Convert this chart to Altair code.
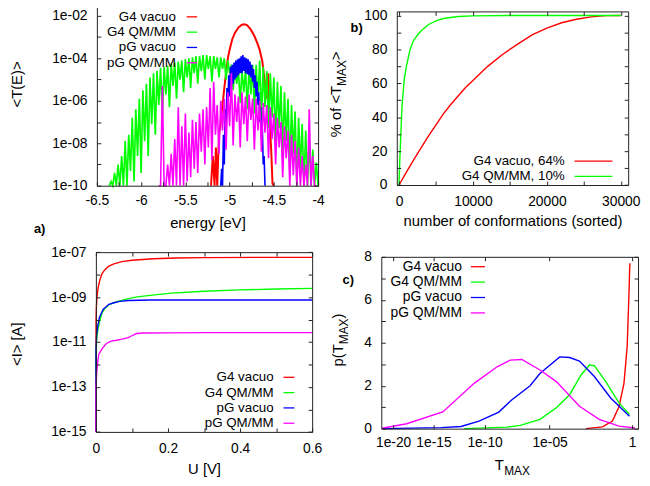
import altair as alt
import numpy as np
import pandas as pd

FONT = "Liberation Sans"
W, H = 642, 478
BORDER = "#222222"
TICK = 4


def cx(p):
    return p - 8


def cy(p):
    return p + 1


SERIES = ["G4 vacuo", "G4 QM/MM", "pG vacuo", "pG QM/MM"]
COLORS = ["#ff0000", "#00ff00", "#0000ff", "#ff00ff"]

# ---------------- panel a) <T(E)> vs energy (log10 of T) ----------------
a_red_E = [-5.21, -5.19, -5.17, -5.155, -5.14, -5.12, -5.10, -5.08, -5.06, -5.04,
           -5.02, -5.00, -4.97, -4.94, -4.90, -4.86, -4.83, -4.80, -4.76, -4.72,
           -4.69, -4.66, -4.63, -4.60, -4.58, -4.565, -4.555, -4.545, -4.53, -4.515, -4.50]
a_red_logT = [-10.6, -8.6, -10.6, -8.2, -10.6, -7.6, -7.0, -6.2, -5.4, -4.7,
              -4.0, -3.6, -3.1, -2.8, -2.55, -2.42, -2.40, -2.45, -2.65, -2.95,
              -3.25, -3.6, -4.15, -5.2, -5.9, -4.7, -6.6, -7.2, -8.3, -9.9, -10.6]

a_green_E0, a_green_dE = -6.36, 0.02
a_green_logT = [-10.6, -9.8, -10.6, -9.4, -10.6, -9.0, -10.6, -8.6, -10.4, -7.9,
                -10.2, -7.6, -9.3, -6.8, -9.8, -6.4, -8.6, -5.9, -9.4, -5.5,
                -7.9, -5.2, -8.6, -4.9, -7.1, -4.7, -7.6, -4.6, -6.2, -4.45,
                -6.8, -4.4, -5.7, -4.35, -6.3, -4.25, -5.3, -4.2, -5.9, -4.15,
                -5.0, -4.1, -5.6, -4.05, -4.9, -4.0, -5.4, -3.95, -4.7, -3.9,
                -5.2, -3.9, -4.6, -3.85, -5.0, -3.85, -4.5, -3.9, -5.1, -3.9,
                -4.5, -3.95, -4.9, -3.95, -4.5, -4.0, -5.0, -4.1, -4.7, -4.3,
                -5.5, -4.5, -5.2, -4.6, -6.1, -4.55, -5.6, -4.5, -6.4, -4.4,
                -5.7, -4.3, -6.6, -4.3, -6.0, -4.1, -6.9, -4.4, -6.3, -4.6,
                -7.3, -4.7, -6.8, -4.9, -8.0, -5.1, -7.3, -5.3, -8.6, -5.6,
                -7.9, -5.9, -9.2, -6.2, -8.5, -6.5, -9.9, -6.8, -9.2, -7.1,
                -10.6, -7.4, -10.0, -7.8, -10.6, -8.3, -10.6, -8.9, -10.6]

a_blue_E0, a_blue_dE = -5.10, 0.01
a_blue_logT = [-10.6, -9.2, -10.2, -7.6, -9.0, -6.4, -7.6, -5.4, -6.5, -4.8,
               -5.8, -4.4, -5.4, -4.3, -5.2, -4.2, -5.0, -4.1, -4.9, -4.05,
               -4.8, -4.0, -4.7, -3.9, -4.7, -3.85, -4.6, -3.95, -4.7, -4.0,
               -4.75, -4.05, -4.8, -4.15, -4.9, -4.3, -5.1, -4.5, -5.4, -4.8,
               -5.8, -5.1, -6.2, -5.6, -7.0, -6.3, -7.8, -7.3, -9.0, -8.6,
               -10.6]

a_mag_E0, a_mag_dE = -5.80, 0.02
a_mag_logT = [-10.6, -10.6, -5.3, -10.6, -10.6, -9.0, -10.6, -8.5, -10.6, -7.8,
              -10.6, -6.3, -10.4, -7.2, -10.0, -6.6, -9.8, -7.5, -9.6, -6.9,
              -9.2, -7.0, -9.4, -6.6, -8.4, -6.4, -9.0, -6.3, -8.2, -5.4,
              -8.8, -5.1, -7.6, -6.2, -8.5, -6.0, -7.4, -5.9, -8.3, -5.6,
              -7.2, -4.7, -8.1, -5.7, -7.0, -5.8, -8.2, -5.6, -7.1, -5.8,
              -7.9, -5.7, -6.9, -5.9, -8.3, -5.9, -7.4, -6.0, -8.4, -6.1,
              -7.5, -6.2, -8.7, -6.3, -7.8, -6.6, -9.0, -6.8, -8.2, -7.0,
              -9.6, -7.2, -8.7, -7.4, -10.2, -7.6, -9.5, -7.9, -10.6, -8.2,
              -10.6, -8.6, -10.6, -9.0, -10.6, -6.4, -10.6, -8.6, -10.6, -10.6]

# ---------------- panel b) cumulative % of <T_MAX> ----------------
b_red_n = [0, 1000, 2000, 3000, 4000, 5000, 6000, 7000, 8000, 9000, 10000,
           12000, 14000, 16000, 18000, 20000, 22000, 24000, 26000, 28000, 30000]
b_red_pct = [0, 7.6, 15, 22, 29, 35.5, 42, 47.5, 52.5, 57.5, 61.6,
             70, 77, 83, 88.5, 92.6, 95.7, 97.8, 99.2, 99.9, 100]
b_green_n = [0, 100, 200, 400, 700, 1000, 1500, 2000, 2500, 3000, 4000,
             5000, 6000, 8000, 10000, 15000, 20000, 30000]
b_green_pct = [0, 14, 25, 46, 62, 70, 80, 85.5, 88.5, 91, 94.7,
               96.8, 98.2, 99.4, 99.8, 100, 100, 100]
b_names = ["G4 vacuo, 64%", "G4 QM/MM, 10%"]

# ---------------- panel c) <I> vs U (log10 of I) ----------------
c_red_U = [0, 0.0005, 0.0015, 0.003, 0.006, 0.01, 0.017, 0.025, 0.035, 0.05,
           0.072, 0.1, 0.16, 0.22, 0.3, 0.45, 0.6]
c_red_logI = [-15.5, -10.0, -9.4, -9.0, -8.6, -8.3, -7.95, -7.78, -7.63, -7.52,
              -7.42, -7.36, -7.29, -7.26, -7.24, -7.23, -7.23]
c_green_U = [0, 0.0005, 0.002, 0.005, 0.01, 0.017, 0.025, 0.036, 0.05, 0.066,
             0.09, 0.115, 0.15, 0.21, 0.3, 0.4, 0.5, 0.6]
c_green_logI = [-15.5, -11.5, -10.9, -10.5, -10.1, -9.7, -9.5, -9.35, -9.25, -9.17,
                -9.07, -8.99, -8.92, -8.82, -8.74, -8.68, -8.64, -8.61]
c_blue_U = [0, 0.0005, 0.002, 0.005, 0.01, 0.02, 0.036, 0.05, 0.066, 0.09, 0.15, 0.3, 0.6]
c_blue_logI = [-15.5, -11.3, -10.7, -10.3, -9.9, -9.55, -9.32, -9.25, -9.19, -9.15,
               -9.13, -9.13, -9.13]
c_mag_U = [0, 0.0005, 0.002, 0.005, 0.008, 0.017, 0.027, 0.036, 0.045, 0.054,
           0.072, 0.09, 0.1, 0.113, 0.13, 0.2, 0.3, 0.6]
c_mag_logI = [-15.5, -13.0, -12.4, -11.9, -11.55, -11.3, -11.1, -11.0, -10.95, -10.93,
              -10.87, -10.8, -10.72, -10.62, -10.6, -10.59, -10.58, -10.58]

# ---------------- panel d) p(T_MAX) vs T_MAX (log10 of T) ----------------
d_red_logT = [-2.65, -1.66, -1.09, -0.72, -0.446, -0.268, -0.176, -0.123]
d_red_p = [0.0, 0.08, 0.35, 1.02, 2.1, 3.83, 6.13, 7.7]
d_green_logT = [-11.85, -8.14, -7.11, -5.67, -4.54, -3.67, -2.95, -2.44, -2.14, -1.47, -0.72, -0.144]
d_green_p = [0.0, 0.07, 0.15, 0.43, 0.97, 1.58, 2.5, 2.96, 2.93, 2.19, 1.2, 0.66]
d_blue_logT = [-21.63, -14.16, -12.16, -10.49, -8.80, -7.75, -6.38, -5.67, -4.32, -3.67,
               -3.05, -2.14, -1.19, -0.144]
d_blue_p = [0.0, 0.05, 0.1, 0.35, 0.77, 1.35, 2.0, 2.57, 3.34, 3.31, 3.15, 2.43, 1.43, 0.58]
d_mag_logT = [-21.63, -18.19, -13.99, -10.93, -8.94, -7.88, -6.99, -5.67, -4.54, -3.05,
              -1.85, -0.72, 0.159]
d_mag_p = [0.02, 0.23, 0.78, 2.11, 2.88, 3.19, 3.22, 2.73, 2.19, 1.04, 0.43, 0.12, 0.03]

LOGFMT = "'1e-' + (round(-log(datum.value)/LN10) < 10 ? '0' : '') + round(-log(datum.value)/LN10)"
PLAIN = "'' + datum.value"

PANELS = {
    "a": dict(xtype="linear", xdom=[-6.5, -4.0], xr=[cx(98), cx(322)],
              ytype="log", ydom=[1e-10, 1e-1], yr=[cy(185), cy(-8.5)],
              xticks=[-6.5 + 0.25 * k for k in range(11)],
              xlabels=[-6.5, -6.0, -5.5, -5.0, -4.5, -4.0],
              yticks=[10.0 ** (-10 + k) for k in range(10)],
              ylabels=[1e-10, 1e-8, 1e-6, 1e-4, 1e-2],
              xfmt=PLAIN, yfmt=LOGFMT, xpad=8, ypad=10),
    "b": dict(xtype="linear", xdom=[-300, 31000], xr=[cx(401.7), cx(636)],
              ytype="linear", ydom=[0, 102.4], yr=[cy(184.3), cy(8.5)],
              xticks=[0, 5000, 10000, 15000, 20000, 25000, 30000],
              xlabels=[0, 10000, 20000, 30000],
              yticks=[10 * k for k in range(11)],
              ylabels=[0, 20, 40, 60, 80, 100],
              xfmt=PLAIN, yfmt=PLAIN, xpad=10, ypad=10),
    "c": dict(xtype="linear", xdom=[0, 0.6], xr=[cx(97), cx(316)],
              ytype="log", ydom=[1e-15, 1e-7], yr=[cy(434.3), cy(252.3)],
              xticks=[0, 0.1, 0.2, 0.3, 0.4, 0.5, 0.6],
              xlabels=[0, 0.2, 0.4, 0.6],
              yticks=[10.0 ** (-15 + k) for k in range(9)],
              ylabels=[1e-15, 1e-13, 1e-11, 1e-9, 1e-7],
              xfmt=PLAIN, yfmt=LOGFMT, xpad=10, ypad=10),
    "d": dict(xtype="pow", xexp=0.020761, xdom=[10 ** -21.73, 10 ** 0.317], xr=[cx(386), cx(646)],
              ytype="linear", ydom=[0, 8], yr=[cy(431), cy(257)],
              xticks=[1e-20, 1e-15, 1e-10, 1e-5, 1.0],
              xlabels=[1e-20, 1e-15, 1e-10, 1e-5, 1.0],
              yticks=list(range(9)),
              ylabels=[0, 2, 4, 6, 8],
              xfmt="datum.value > 0.5 ? '1' : " + LOGFMT, yfmt=PLAIN, xpad=7, ypad=10),
}


def sc(P, ax):
    kw = dict(type=P[ax + "type"], domain=P[ax + "dom"], range=P[ax + "r"],
              nice=False, zero=False, clamp=True)
    if P[ax + "type"] == "pow":
        kw["exponent"] = P[ax + "exp"]
    return alt.Scale(**kw)


def line_layer(P, xs, ys, color, sw):
    df = pd.DataFrame({"x": xs, "y": ys})
    return alt.Chart(df).mark_line(color=color, strokeWidth=sw).encode(
        x=alt.X("x:Q", scale=sc(P, "x"), axis=None),
        y=alt.Y("y:Q", scale=sc(P, "y"), axis=None),
    )


def axis_layers(P, xtitle=None, xtitleY=0, ytitle=None, ytitleX=0, ytitleY=0):
    left, right = P["xr"]
    bottom, top = P["yr"]
    dummy = pd.DataFrame({"x": [P["xdom"][0]], "y": [P["ydom"][0]]})
    lab = dict(labelFont=FONT, labelFontSize=14, labelColor="black", labelFlush=False,
               labelOverlap=False, grid=False, zindex=1)
    ttl = dict(titleFont=FONT, titleFontSize=15, titleColor="black",
               titleFontWeight="normal", titleBaseline="middle")
    if xtitle:
        xt = dict(title=xtitle, titleY=xtitleY, **ttl)
    else:
        xt = dict(title=None)
    if ytitle:
        yt = dict(title=ytitle, titleX=ytitleX, titleY=ytitleY, titleAngle=270, **ttl)
    else:
        yt = dict(title=None)
    specs = [
        (alt.Axis(orient="bottom", offset=bottom - H, values=P["xlabels"], labelExpr=P["xfmt"],
                  ticks=False, tickSize=0, domain=True, domainColor=BORDER, domainWidth=1,
                  labelPadding=P["xpad"], labelAngle=0, **lab, **xt),
         alt.Axis(orient="left", offset=-left, values=P["ylabels"], labelExpr=P["yfmt"],
                  ticks=False, tickSize=0, domain=True, domainColor=BORDER, domainWidth=1,
                  labelPadding=P["ypad"], **lab, **yt)),
        (alt.Axis(orient="bottom", offset=bottom - TICK - H, values=P["xticks"], labels=False,
                  ticks=True, tickSize=TICK, tickColor=BORDER, tickWidth=1, domain=False,
                  grid=False, title=None, zindex=1),
         alt.Axis(orient="left", offset=-(left + TICK), values=P["yticks"], labels=False,
                  ticks=True, tickSize=TICK, tickColor=BORDER, tickWidth=1, domain=False,
                  grid=False, title=None, zindex=1)),
        (alt.Axis(orient="top", offset=-(top + TICK), values=P["xticks"], labels=False,
                  ticks=True, tickSize=TICK, tickColor=BORDER, tickWidth=1, domain=False,
                  grid=False, title=None, zindex=1),
         alt.Axis(orient="right", offset=right - TICK - W, values=P["yticks"], labels=False,
                  ticks=True, tickSize=TICK, tickColor=BORDER, tickWidth=1, domain=False,
                  grid=False, title=None, zindex=1)),
        (alt.Axis(orient="top", offset=-top, labels=False, ticks=False, domain=True,
                  domainColor=BORDER, domainWidth=1, grid=False, title=None, zindex=1),
         alt.Axis(orient="right", offset=right - W, labels=False, ticks=False, domain=True,
                  domainColor=BORDER, domainWidth=1, grid=False, title=None, zindex=1)),
    ]
    out = []
    for xa, ya in specs:
        out.append(alt.Chart(dummy).mark_point(opacity=0).encode(
            x=alt.X("x:Q", scale=sc(P, "x"), axis=xa),
            y=alt.Y("y:Q", scale=sc(P, "y"), axis=ya)))
    return out


def legend_layers(names, colors, xtext, x1, x2, y0, dy, fs=13.5):
    out = []
    for i, (n, c) in enumerate(zip(names, colors)):
        df = pd.DataFrame({"name": [n]})
        yy = cy(y0 + i * dy)
        out.append(alt.Chart(df).mark_text(align="right", baseline="middle", font=FONT,
                                           fontSize=fs, color="black").encode(
            text="name:N", x=alt.value(cx(xtext)), y=alt.value(yy)))
        out.append(alt.Chart(df).mark_rule(color=c, strokeWidth=1.3).encode(
            x=alt.value(cx(x1)), x2=alt.value(cx(x2)), y=alt.value(yy)))
    return out


def text_layer(txt, xp, yp, fs=15, weight="normal", angle=0, align="left", baseline="alphabetic"):
    df = pd.DataFrame({"t": [txt]})
    return alt.Chart(df).mark_text(align=align, baseline=baseline, font=FONT, fontSize=fs,
                                   fontWeight=weight, angle=angle, color="black").encode(
        text="t:N", x=alt.value(cx(xp)), y=alt.value(cy(yp)))


layers = []

# ----- panel a
PA = PANELS["a"]
gE = [round(a_green_E0 + a_green_dE * i, 3) for i in range(len(a_green_logT))]
bE = [round(a_blue_E0 + a_blue_dE * i, 3) for i in range(len(a_blue_logT))]
mE = [round(a_mag_E0 + a_mag_dE * i, 3) for i in range(len(a_mag_logT))]
layers.append(line_layer(PA, a_red_E, [10.0 ** v for v in a_red_logT], COLORS[0], 2.0))
layers.append(line_layer(PA, gE, [10.0 ** v for v in a_green_logT], COLORS[1], 1.7))
layers.append(line_layer(PA, bE, [10.0 ** v for v in a_blue_logT], COLORS[2], 1.6))
layers.append(line_layer(PA, mE, [10.0 ** v for v in a_mag_logT], COLORS[3], 1.6))
layers += axis_layers(PA, xtitle="energy [eV]", xtitleY=37, ytitle="<T(E)>",
                      ytitleX=16.7 - 98, ytitleY=cy(82))
layers += legend_layers(SERIES, COLORS, 178, 189, 199.5, 14, 15.5)
layers.append(text_layer("a)", 40, 229, fs=13, weight="bold", align="center", baseline="middle"))

# ----- panel b
PB = PANELS["b"]
layers.append(line_layer(PB, b_red_n, b_red_pct, COLORS[0], 1.4))
layers.append(line_layer(PB, b_green_n, b_green_pct, COLORS[1], 1.4))
layers += axis_layers(PB, xtitle="number of conformations (sorted)", xtitleY=36)
layers += legend_layers(b_names, COLORS[:2], 571.7, 581.7, 620, 160, 15.5)
layers.append(text_layer("b)", 361, 25.5, fs=13, weight="bold", align="center", baseline="middle"))
layers.append(text_layer("% of <T", 345, 136, angle=270))
layers.append(text_layer("MAX", 350, 136 - 52.1, fs=12, angle=270))
layers.append(text_layer(">", 345, 136 - 52.1 - 26, angle=270))

# ----- panel c
PC = PANELS["c"]
layers.append(line_layer(PC, c_red_U, [10.0 ** v for v in c_red_logI], COLORS[0], 1.4))
layers.append(line_layer(PC, c_green_U, [10.0 ** v for v in c_green_logI], COLORS[1], 1.4))
layers.append(line_layer(PC, c_blue_U, [10.0 ** v for v in c_blue_logI], COLORS[2], 1.4))
layers.append(line_layer(PC, c_mag_U, [10.0 ** v for v in c_mag_logI], COLORS[3], 1.4))
layers += axis_layers(PC, xtitle="U [V]", xtitleY=37.4, ytitle="<I> [A]",
                      ytitleX=16.7 - 97, ytitleY=cy(345))
layers += legend_layers(SERIES, COLORS, 277, 287, 298, 379, 15.5)

# ----- panel d
PD = PANELS["d"]
layers.append(line_layer(PD, [10.0 ** v for v in d_red_logT], d_red_p, COLORS[0], 1.4))
layers.append(line_layer(PD, [10.0 ** v for v in d_green_logT], d_green_p, COLORS[1], 1.4))
layers.append(line_layer(PD, [10.0 ** v for v in d_blue_logT], d_blue_p, COLORS[2], 1.4))
layers.append(line_layer(PD, [10.0 ** v for v in d_mag_logT], d_mag_p, COLORS[3], 1.4))
layers += axis_layers(PD)
layers += legend_layers(SERIES, COLORS, 467.7, 476.7, 491, 267, 15.6, fs=14)
layers.append(text_layer("c)", 352.5, 280.5, fs=13, weight="bold", align="center", baseline="middle"))
layers.append(text_layer("T", 501, 473))
layers.append(text_layer("MAX", 510.5, 478, fs=12))
layers.append(text_layer("p(T", 347, 368, angle=270))
layers.append(text_layer("MAX", 352, 368 - 22.5, fs=12, angle=270))
layers.append(text_layer(")", 347, 368 - 22.5 - 26, angle=270))

chart = alt.layer(*layers).properties(
    width=W, height=H,
    autosize=alt.AutoSizeParams(type="none"),
    padding={"left": 0, "top": -9, "right": 0, "bottom": 0},
).resolve_scale(x="independent", y="independent").resolve_axis(
    x="independent", y="independent"
).configure_view(strokeWidth=0)

chart.save("out.html", embed_options={"renderer": "svg", "actions": False})
